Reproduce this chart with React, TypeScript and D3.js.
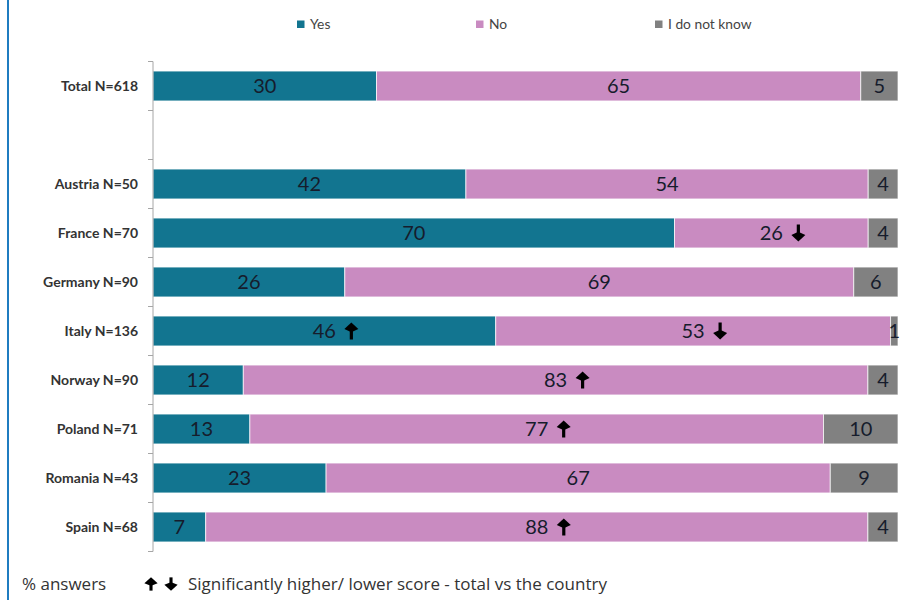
import React from "react";
import * as d3 from "d3";

const categories = ["Total N=618", "", "Austria N=50", "France N=70", "Germany N=90", "Italy N=136", "Norway N=90", "Poland N=71", "Romania N=43", "Spain N=68"];
const yesValues = [30, null, 42, 70, 26, 46, 12, 13, 23, 7];
const noValues = [65, null, 54, 26, 69, 53, 83, 77, 67, 88];
const dkValues = [5, null, 4, 4, 6, 1, 4, 10, 9, 4];
// significance markers: "up" | "down" | ""
const yesSig = ["", "", "", "", "", "up", "", "", "", ""];
const noSig = ["", "", "", "down", "", "down", "up", "up", "", "up"];
const seriesNames = ["Yes", "No", "I do not know"];
const colors = ["#127590", "#c98bc1", "#818181"];

const W = 924, H = 600;
const margin = { left: 153, right: 26, top: 61.5, bottom: 48.5 };

function Arrow({ x, y, dir, s = 1, hw = 7, hh = 8, sw = 3.2 }: { x: number; y: number; dir: string; s?: number; hw?: number; hh?: number; sw?: number }) {
  // bold arrow centered at (x, y), total height 17*s
  const h = 8.5 * s;
  const sign = dir === "up" ? -1 : 1;
  const tip = y + sign * h;
  const base = y - sign * h;
  const headBase = tip - sign * hh * s;
  return (
    <g>
      <line x1={x} y1={base} x2={x} y2={headBase + sign * 1} stroke="#000" strokeWidth={sw * s} />
      <path d={`M${x - hw * s},${headBase + sign * 1.5 * s} L${x},${tip} L${x + hw * s},${headBase + sign * 1.5 * s} L${x + sw * s * 0.5},${headBase - sign * 1 * s} L${x - sw * s * 0.5},${headBase - sign * 1 * s} Z`} fill="#000" />
    </g>
  );
}

export default function App() {
  const y = d3.scaleBand<string>().domain(categories.map((c, i) => String(i))).range([margin.top, H - margin.bottom]).paddingInner(0.39).paddingOuter(0.195);
  const x = d3.scaleLinear().domain([0, 1]).range([margin.left, W - margin.right]);
  const step = y.step();
  const bw = y.bandwidth();
  // 100% stacked: normalise each row by its total
  const stackData = categories.map((c, i) => {
    const a = yesValues[i] ?? 0, b = noValues[i] ?? 0, c2 = dkValues[i] ?? 0;
    const t = a + b + c2 || 1;
    return { yes: a / t, no: b / t, dk: c2 / t };
  });
  const raw = [yesValues, noValues, dkValues];
  const stack = d3.stack<any>().keys(["yes", "no", "dk"])(stackData);
  const sigs = [yesSig, noSig, categories.map(() => "")];
  const labelFont = "Lato, sans-serif";
  const tickYs = d3.range(categories.length + 1).map((k) => margin.top + k * step);

  const legendX = [297, 476, 655];

  return (
    <svg width={W} height={H} style={{ position: "absolute", left: 0, top: 0, background: "#fff" }}>
      <line x1={8} y1={0} x2={8} y2={H} stroke="#1f7cc0" strokeWidth={2} />
      {/* legend */}
      {seriesNames.map((n, i) => (
        <g key={n}>
          <rect x={legendX[i]} y={20.5} width={7.5} height={7.5} fill={colors[i]} />
          <text x={legendX[i] + 13} y={29} fontFamily="Lato, sans-serif" fontSize={13.8} fill="#444">{n}</text>
        </g>
      ))}
      {/* bars */}
      {stack.map((layer, li) => (
        <g key={li}>
          {layer.map((d, i) => {
            const v = raw[li][i];
            if (!v) return null;
            const yy = y(String(i))!;
            const x0 = x(d[0]), x1 = x(d[1]);
            const cx = (x0 + x1) / 2;
            const cy = yy + bw / 2;
            const sig = sigs[li][i];
            const isLastSmall = li === 2 && v === 1;
            return (
              <g key={i}>
                <rect x={x0} y={yy} width={x1 - x0} height={bw} fill={colors[li]} stroke="#fff" strokeWidth={1} strokeOpacity={0.7} />
                <text x={isLastSmall ? x1 + 2 : cx} y={cy + 7} textAnchor={isLastSmall ? "end" : "middle"} fontFamily={labelFont} fontSize={20} fill="#161c2c">{v}</text>
                {sig && <Arrow x={cx + 27} y={cy} dir={sig} />}
              </g>
            );
          })}
        </g>
      ))}
      {/* axis */}
      <line x1={margin.left} x2={margin.left} y1={tickYs[0]} y2={tickYs[tickYs.length - 1]} stroke="#a6a6a6" strokeWidth={1} />
      {tickYs.map((t, k) => (
        <line key={k} x1={margin.left - 5} x2={margin.left} y1={t} y2={t} stroke="#a6a6a6" strokeWidth={1} />
      ))}
      {categories.map((c, i) => (
        <text key={i} x={138} y={y(String(i))! + bw / 2 + 5} textAnchor="end" fontFamily="Lato, sans-serif" fontWeight="bold" fontSize={14} fill="#333">{c}</text>
      ))}
      {/* footnote */}
      <text x={22} y={590} fontFamily="'Open Sans', sans-serif" fontSize={17} fill="#333">% answers</text>
      <Arrow x={151} y={584} dir="up" s={0.78} hw={8.5} hh={9} sw={4} />
      <Arrow x={171} y={584} dir="down" s={0.78} hw={8.5} hh={9} sw={4} />
      <text x={188} y={590} fontFamily="'Open Sans', sans-serif" fontSize={17} fill="#333">Significantly higher/ lower score - total vs the country</text>
    </svg>
  );
}
